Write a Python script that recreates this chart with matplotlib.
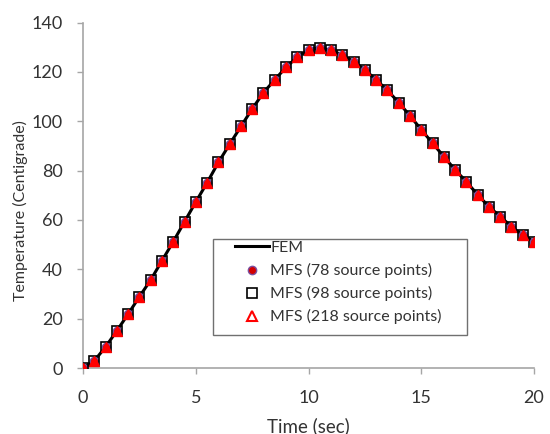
import numpy as np
import matplotlib.pyplot as plt
from matplotlib.lines import Line2D
from matplotlib.patches import Rectangle

plt.rcParams['font.family'] = ['Lato', 'DejaVu Sans']

# time (sec) and temperature values
time_sec = np.arange(0, 20.5, 0.5)
temp_fem = [0, 2.9, 8.6, 15.1, 21.9, 28.9, 35.7, 43.5, 51.2, 59.3,
            67.3, 75.1, 83.3, 90.7, 97.9, 105, 111.6, 116.8, 121.9, 126,
            129, 129.8, 128.7, 126.9, 124.2, 120.8, 116.8, 112.5, 107.6, 102.2,
            96.6, 91.1, 85.7, 80.3, 75.5, 70.2, 65.4, 61.4, 57.3, 53.9, 51.2]
temp_mfs78 = temp_fem
temp_mfs98 = temp_fem
temp_mfs218 = temp_fem

txt = '#333333'
grey = '#a6a6a6'

fig = plt.figure(figsize=(5.5, 4.34), dpi=100)
ax = fig.add_axes([0.151, 0.152, 0.820, 0.796])

ax.plot(time_sec, temp_fem, color='black', lw=2.2, zorder=2)
ax.plot(time_sec, temp_mfs78, 'o', ms=6, mfc='#d40000', mec='#7b4fa0', mew=1, zorder=3)
ax.plot(time_sec, temp_mfs98, 's', ms=7, mfc='none', mec='black', mew=1.2, zorder=4)
ax.plot(time_sec, temp_mfs218, '^', ms=6.5, mfc='red', mec='red', mew=1, zorder=5)

ax.set_xlim(0, 20)
ax.set_ylim(0, 140)
ax.set_xticks([0, 5, 10, 15, 20])
ax.set_yticks(range(0, 141, 20))
ax.set_xlabel('Time (sec)', fontsize=13.5, color=txt)
ax.set_ylabel('Temperature (Centigrade)', fontsize=11.5, color=txt)
ax.xaxis.set_label_coords(0.5, -0.142)
ax.yaxis.set_label_coords(-0.122, 0.455)
ax.tick_params(labelsize=13, labelcolor=txt, color=grey, length=4.5, width=1)
ax.tick_params(axis='x', pad=11)
ax.tick_params(axis='y', pad=10)
for s in ['top', 'right']:
    ax.spines[s].set_visible(False)
for s in ['left', 'bottom']:
    ax.spines[s].set_color(grey)
    ax.spines[s].set_linewidth(1.2)

handles = [
    Line2D([], [], color='black', lw=2.2),
    Line2D([], [], ls='none', marker='o', ms=6, mfc='#d40000', mec='#7b4fa0'),
    Line2D([], [], ls='none', marker='s', ms=7, mfc='none', mec='black', mew=1.2),
    Line2D([], [], ls='none', marker='^', ms=7, mfc='none', mec='red', mew=1.5),
]
labels = ['FEM', 'MFS (78 source points)', 'MFS (98 source points)', 'MFS (218 source points)']
leg = ax.legend(handles, labels, loc='upper left', bbox_to_anchor=(0.337, 0.368),
                fontsize=11.5, frameon=False, borderpad=0, borderaxespad=0,
                handlelength=2.1, handletextpad=0.1, labelspacing=0.5)
for t in leg.get_texts():
    t.set_color(txt)

# legend box
ax.add_patch(Rectangle((0.288, 0.0956), 0.563, 0.278, transform=ax.transAxes,
                       fill=False, edgecolor='#707070', lw=1.0, clip_on=False, zorder=6))

fig.savefig('out.png', dpi=100)
